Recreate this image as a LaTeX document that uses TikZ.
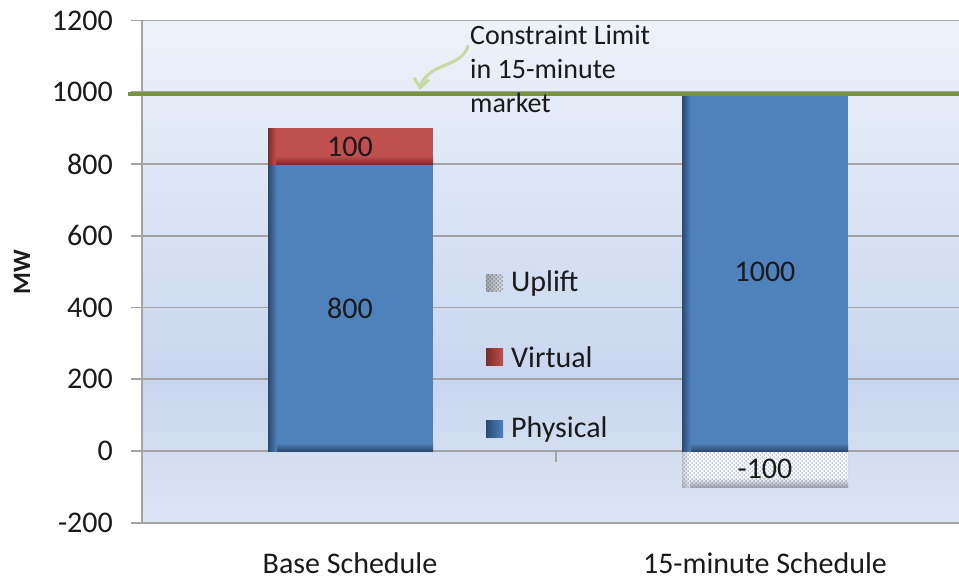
\documentclass[tikz,border=0pt]{standalone}
\usepackage{fontspec}
\setmainfont{Carlito}
\usetikzlibrary{patterns,arrows.meta}

\definecolor{phys}{HTML}{4F81BD}
\definecolor{physdark}{HTML}{2B4A70}
\definecolor{virt}{HTML}{C0504D}
\definecolor{virtdark}{HTML}{7A2C2A}
\definecolor{gridgray}{HTML}{A3A3A3}
\definecolor{limitgreen}{HTML}{77933C}
\definecolor{notegreen}{HTML}{C6D9A0}
\definecolor{bgtop}{HTML}{EEF2FA}
\definecolor{bgmid}{HTML}{C8D6EE}
\definecolor{bgbot}{HTML}{DDE5F3}
\definecolor{dotblue}{HTML}{6F8FC6}
\definecolor{txt}{HTML}{1A1A1A}

% staggered dot grid used for the uplift segment
\pgfdeclarepatternformonly{updots}{\pgfqpoint{-1pt}{-1pt}}{\pgfqpoint{5pt}{5pt}}{\pgfqpoint{4pt}{4pt}}{%
  \pgfpathcircle{\pgfqpoint{0pt}{0pt}}{0.75pt}%
  \pgfpathcircle{\pgfqpoint{2pt}{2pt}}{0.75pt}%
  \pgfusepath{fill}%
}

\tikzset{
  grid/.style={draw=gridgray, line width=1.6pt},
  ticklabel/.style={anchor=east, inner sep=0pt, text=txt, font=\fontsize{30}{34}\selectfont},
  catlabel/.style={inner sep=0pt, text=txt, font=\fontsize{30}{34}\selectfont},
  barlabel/.style={inner sep=0pt, text=txt, font=\fontsize{30}{34}\selectfont},
  legtext/.style={anchor=west, inner sep=0pt, text=txt, font=\fontsize{30}{34}\selectfont},
  legmark/.style={minimum size=17pt, inner sep=0pt},
  limitline/.style={draw=limitgreen, line width=3.5pt},
  notearrow/.style={draw=notegreen, line width=3pt, line cap=round,
    -{Straight Barb[length=9pt,width=15pt,line width=3pt]}},
}

\begin{document}
\begin{tikzpicture}[x=1pt, y=-1pt]
\useasboundingbox (0,0) rectangle (959,579);

% plot area background
\fill[top color=bgtop, bottom color=bgmid] (142,20) rectangle (959,380);
\fill[top color=bgmid, bottom color=bgbot] (142,379.5) rectangle (959,523);

% horizontal gridlines with tick labels
\foreach \v in {-200,0,200,400,600,800,1000,1200} {
  \pgfmathsetmacro{\yy}{451-0.3588*\v}
  \draw[grid] (131,\yy) -- (959,\yy);
  \node[ticklabel] (ylab\v) at (113,\yy) {\v};
}
% vertical axis and category divider tick
\draw[grid] (142,20) -- (142,523);
\draw[grid] (556,451) -- (556,462);

% axis title
\node[rotate=90, inner sep=0pt, text=txt, font=\fontsize{25}{30}\selectfont\bfseries] (mw) at (22,272) {MW};

% Base Schedule: physical 800 + virtual 100
\fill[phys] (268,164) rectangle (433,451);
\shade[top color=phys, bottom color=physdark] (268,443) rectangle (433,451);
\shade[left color=physdark, right color=phys] (268,164) rectangle (277,451);
\fill[virt] (268,128) rectangle (433,164);
\shade[top color=virt, bottom color=virtdark] (268,156) rectangle (433,164);
\shade[left color=virtdark, right color=virt] (268,128) rectangle (276,164);

% 15-minute Schedule: physical 1000 + uplift -100
\fill[phys] (682,93) rectangle (848,451);
\shade[top color=phys, bottom color=physdark] (682,443) rectangle (848,451);
\shade[left color=physdark, right color=phys] (682,93) rectangle (691,451);
\fill[white] (682,452) rectangle (848,487);
\shade[top color=white, bottom color=gray!70] (682,477) rectangle (848,487);
\shade[left color=gray!55, right color=white, opacity=0.7] (682,452) rectangle (690,487);
\fill[pattern=updots, pattern color=dotblue] (682,452) rectangle (848,487);

% constraint limit
\draw[limitline] (128,94) -- (959,94);

% bar value labels
\node[barlabel] (v100) at (350,147) {100};
\node[barlabel] (v800) at (350,308) {800};
\node[barlabel] (v1000) at (765,272) {1000};
\node[barlabel] (vneg) at (765,469) {-100};

% category labels
\node[catlabel] (cat1) at (350,563) {Base Schedule};
\node[catlabel] (cat2) at (765,563) {15-minute Schedule};

% legend
\node[legmark, left color=gray!70, right color=gray!25] (mkup) at (494.5,283) {};
\fill[pattern=updots, pattern color=dotblue!70!black] (mkup.north west) rectangle (mkup.south east);
\node[legmark, left color=virtdark, right color=virt] (mkvi) at (494.5,357) {};
\node[legmark, left color=physdark, right color=phys] (mkph) at (494.5,429) {};
\node[legtext] (lgup) at (511,283) {Uplift};
\node[legtext] (lgvi) at (511,357) {Virtual};
\node[legtext] (lgph) at (511,429) {Physical};

% annotation
\node[anchor=north west, align=left, inner sep=0pt, text=txt,
      font=\fontsize{28}{34}\selectfont] (note) at (470,25)
  {Constraint Limit\\in 15-minute\\market};
\coordinate (notefrom) at (468,46);
\coordinate (notetip) at (420,90);
\draw[notearrow] (notefrom) .. controls (463,62) and (446,63) .. (433,71)
  .. controls (426,76) and (421,82) .. (notetip);
\end{tikzpicture}
\end{document}
